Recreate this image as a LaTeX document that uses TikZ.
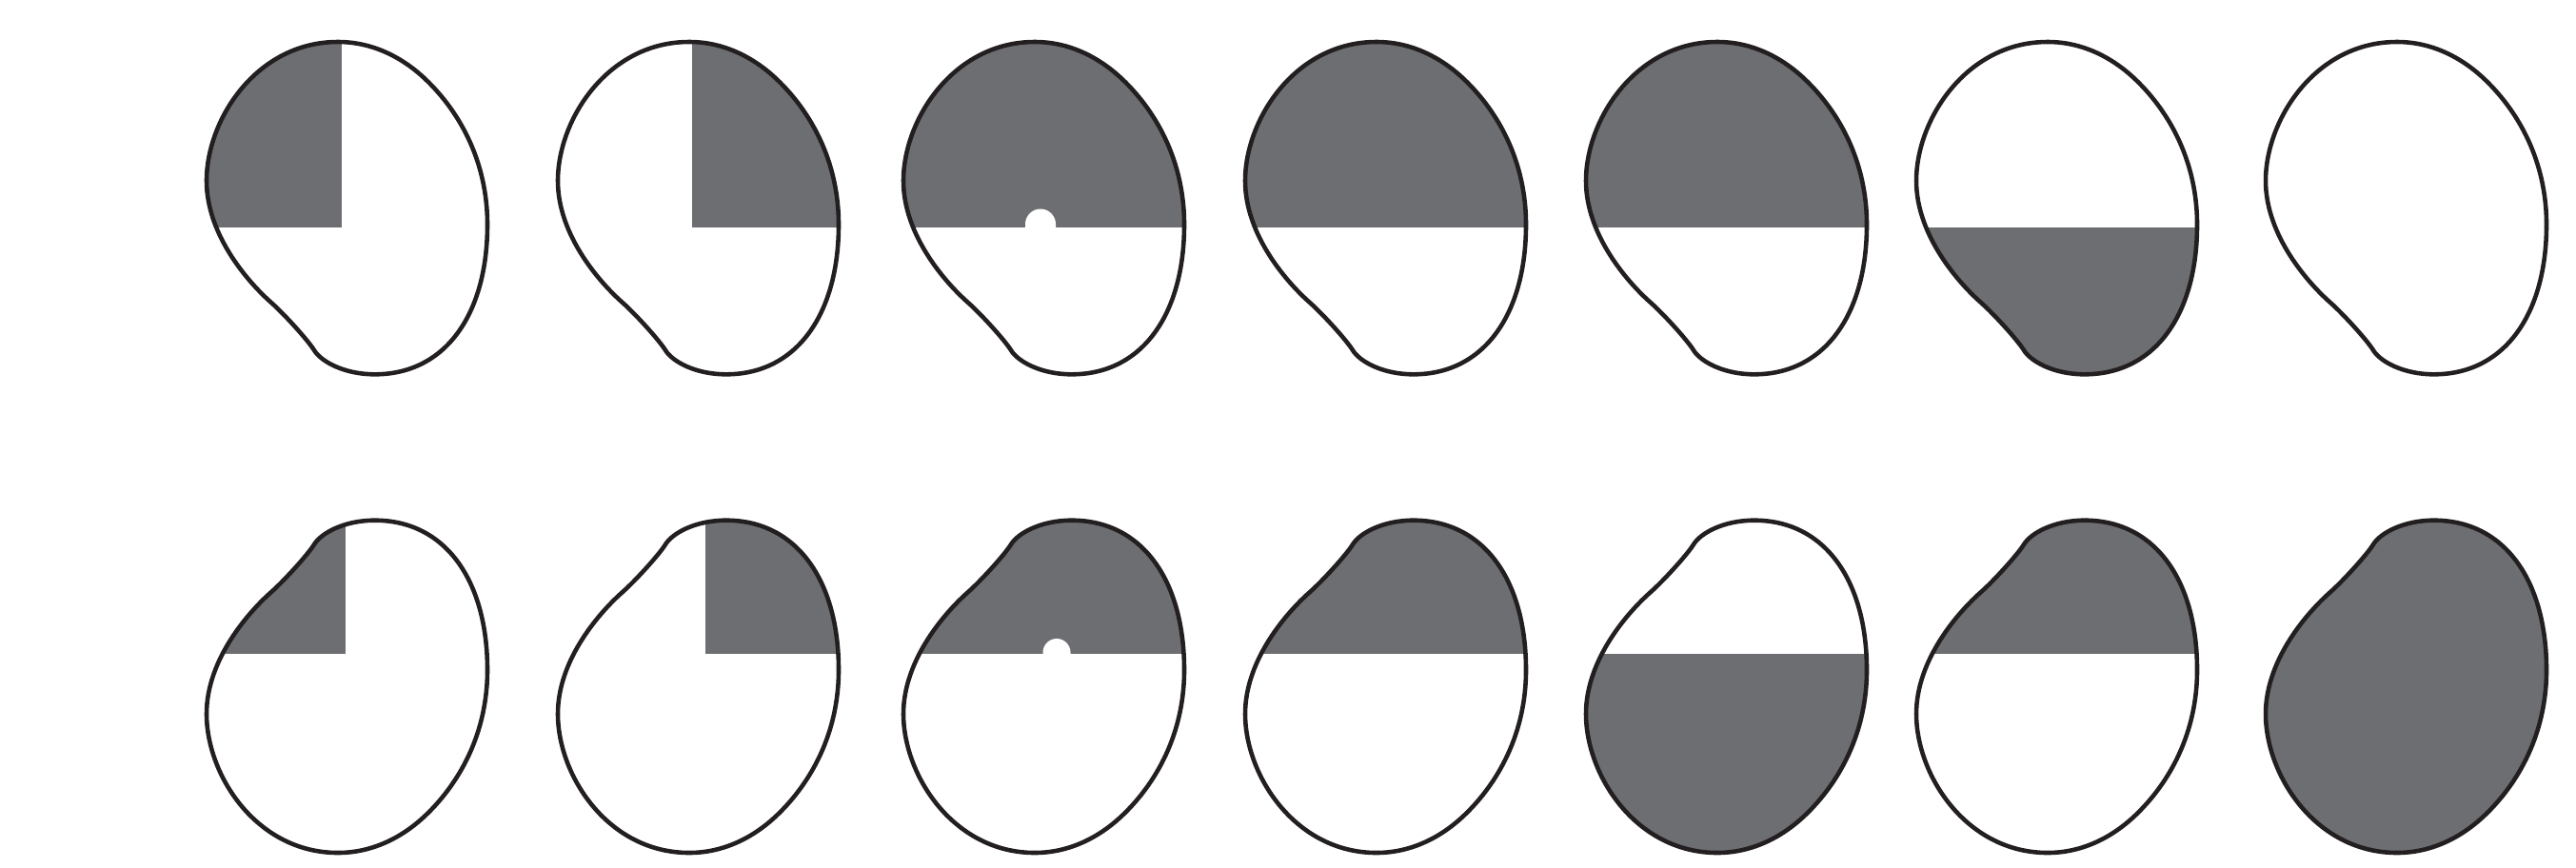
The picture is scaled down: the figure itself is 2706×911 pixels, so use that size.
\documentclass[tikz,border=0pt]{standalone}
\definecolor{seedgray}{HTML}{6D6E71}
\definecolor{seedline}{HTML}{231F20}
\newcommand\seedblob{(355,44) .. controls (390,44) and (421.7,59.2) .. (447,83.3)
  .. controls (483.2,117.8) and (512,170) .. (512,236)
  .. controls (512,330) and (468,393.3) .. (393.7,393.3)
  .. controls (361.7,393.3) and (337.3,379.9) .. (330,368)
  .. controls (323.8,357.8) and (298.5,329.9) .. (285,318)
  .. controls (262.5,298.2) and (217,248) .. (217,190)
  .. controls (217,125) and (270,44) .. (355,44) -- cycle}
\begin{document}
\begin{tikzpicture}[x=0.01cm,y=-0.01cm,
  outline/.style={draw=seedline, line width=1.3pt, line join=round},
  grayfill/.style={fill=seedgray}]
\useasboundingbox (0,0) rectangle (2706,911);
% ---------- top row ----------
% col 1
\begin{scope}[shift={(0,0)}]
  \begin{scope}\clip \seedblob; \fill[grayfill] (200,20) rectangle (359.3,238.5);\end{scope}
  \draw[outline] \seedblob;
\end{scope}
% col 2
\begin{scope}[shift={(369,0)}]
  \begin{scope}\clip \seedblob; \fill[grayfill] (358.2,20) rectangle (530,238.5);\end{scope}
  \draw[outline] \seedblob;
\end{scope}
% col 3
\begin{scope}[shift={(732,0)}]
  \begin{scope}\clip \seedblob; \fill[grayfill] (200,20) rectangle (530,238.5);
    \fill[white] (345,239.5) -- (345,235.5) .. controls (345,226.7) and (352.2,219.5) .. (361,219.5)
      .. controls (369.8,219.5) and (377,226.7) .. (377,235.5) -- (377,239.5) -- cycle;\end{scope}
  \draw[outline] \seedblob;
\end{scope}
% col 4
\begin{scope}[shift={(1091,0)}]
  \begin{scope}\clip \seedblob; \fill[grayfill] (200,20) rectangle (530,238.5);\end{scope}
  \draw[outline] \seedblob;
\end{scope}
% col 5
\begin{scope}[shift={(1449,0)}]
  \begin{scope}\clip \seedblob; \fill[grayfill] (200,20) rectangle (530,238.5);\end{scope}
  \draw[outline] \seedblob;
\end{scope}
% col 6
\begin{scope}[shift={(1796,0)}]
  \begin{scope}\clip \seedblob; \fill[grayfill] (200,238.5) rectangle (530,420);\end{scope}
  \draw[outline] \seedblob;
\end{scope}
% col 7
\begin{scope}[shift={(2163,0)}]
  \draw[outline] \seedblob;
\end{scope}
% ---------- bottom row (mirrored) ----------
% col 1
\begin{scope}[shift={(0,940)}, yscale=-1]
  \begin{scope}\clip \seedblob; \fill[grayfill] (200,253) rectangle (363.3,940);\end{scope}
  \draw[outline] \seedblob;
\end{scope}
% col 2
\begin{scope}[shift={(369,940)}, yscale=-1]
  \begin{scope}\clip \seedblob; \fill[grayfill] (371.8,253) rectangle (530,940);\end{scope}
  \draw[outline] \seedblob;
\end{scope}
% col 3
\begin{scope}[shift={(732,940)}, yscale=-1]
  \begin{scope}\clip \seedblob; \fill[grayfill] (200,253) rectangle (530,940);
    \fill[white] (363.5,252) -- (363.5,254.5) .. controls (363.5,262.5) and (370,269) .. (378,269)
      .. controls (386,269) and (392.5,262.5) .. (392.5,254.5) -- (392.5,252) -- cycle;\end{scope}
  \draw[outline] \seedblob;
\end{scope}
% col 4
\begin{scope}[shift={(1091,940)}, yscale=-1]
  \begin{scope}\clip \seedblob; \fill[grayfill] (200,253) rectangle (530,940);\end{scope}
  \draw[outline] \seedblob;
\end{scope}
% col 5
\begin{scope}[shift={(1449,940)}, yscale=-1]
  \begin{scope}\clip \seedblob; \fill[grayfill] (200,0) rectangle (530,253);\end{scope}
  \draw[outline] \seedblob;
\end{scope}
% col 6
\begin{scope}[shift={(1796,940)}, yscale=-1]
  \begin{scope}\clip \seedblob; \fill[grayfill] (200,253) rectangle (530,940);\end{scope}
  \draw[outline] \seedblob;
\end{scope}
% col 7
\begin{scope}[shift={(2163,940)}, yscale=-1]
  \fill[grayfill] \seedblob;
  \draw[outline] \seedblob;
\end{scope}
\end{tikzpicture}
\end{document}
